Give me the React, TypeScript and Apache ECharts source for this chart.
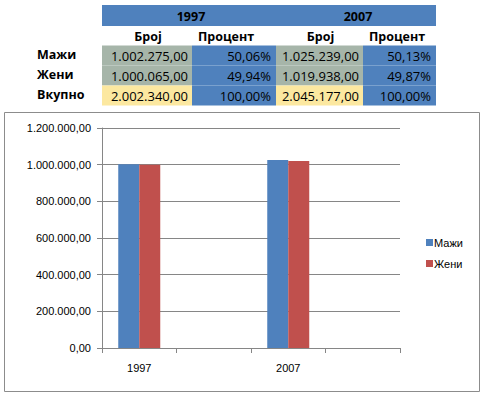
import React, { useEffect, useRef } from "react";
import * as echarts from "echarts";

const years = ["1997", "2007"];
const rowLabels = ["Мажи", "Жени", "Вкупно"];
const colHeaders = ["Број", "Процент"];
const maleCounts = [1002275, 1025239];
const femaleCounts = [1000065, 1019938];
const totalCounts = [2002340, 2045177];
const malePct = [50.06, 50.13];
const femalePct = [49.94, 49.87];
const totalPct = [100, 100];
const categories = ["1997", "", "2007", ""];
const maleSeries = [1002275, null, 1025239, null];
const femaleSeries = [1000065, null, 1019938, null];
const seriesNames = ["Мажи", "Жени"];

function fmt(n: number, decimals = 2): string {
  const [i, d] = n.toFixed(decimals).split(".");
  return i.replace(/\B(?=(\d{3})+(?!\d))/g, ".") + (d !== undefined ? "," + d : "");
}

const BLUE = "#4F81BD";
const GRAY = "#A6B5A9";
const YELLOW = "#FCE8A0";
const TFONT = "Open Sans";
const BOLD = `bold 12.5px "${TFONT}"`;
const REG = `13px "${TFONT}"`;

function txt(text: string, x: number, y: number, align: string, font: string) {
  return { type: "text", x, y, style: { text, x: 0, y: 0, align, verticalAlign: "middle", font, fill: "#000" } };
}

function buildTable(): any[] {
  const els: any[] = [];
  const colX = [102, 192, 276, 363, 436];
  els.push({ type: "rect", shape: { x: colX[0], y: 5, width: colX[4] - colX[0], height: 21 }, style: { fill: BLUE } });
  years.forEach((y, k) => {
    els.push(txt(y, (colX[2 * k] + colX[2 * k + 2]) / 2 + 2, 16, "center", BOLD));
  });
  years.forEach((_, k) => {
    els.push(txt(colHeaders[0], (colX[2 * k] + colX[2 * k + 1]) / 2 + 1, 36, "center", BOLD));
    els.push(txt(colHeaders[1], colX[2 * k + 1] + 6, 36, "left", BOLD));
  });
  const counts = [maleCounts, femaleCounts, totalCounts];
  const pcts = [malePct, femalePct, totalPct];
  const rowTop = [45.5, 65.5, 85.5];
  const rh = 20;
  rowLabels.forEach((lab, r) => {
    const cy = rowTop[r] + rh / 2;
    els.push({ type: "text", left: 37, top: cy - 8, style: { text: lab, font: BOLD, fill: "#000" } });
    years.forEach((_, k) => {
      els.push({ type: "rect", shape: { x: colX[2 * k], y: rowTop[r], width: colX[2 * k + 1] - colX[2 * k], height: rh }, style: { fill: r === 2 ? YELLOW : GRAY } });
      els.push({ type: "rect", shape: { x: colX[2 * k + 1], y: rowTop[r], width: colX[2 * k + 2] - colX[2 * k + 1], height: rh }, style: { fill: BLUE } });
      els.push(txt(fmt(counts[r][k]), colX[2 * k + 1] - 4, cy, "right", REG));
      els.push(txt(fmt(pcts[r][k]) + "%", colX[2 * k + 2] - 5, cy, "right", REG));
    });
  });
  els.push({ type: "rect", z: -10, shape: { x: 4.5, y: 112.5, width: 475, height: 279 }, style: { fill: "#fff", stroke: "#8C8C8C", lineWidth: 1 } });
  return els;
}

export default function App() {
  const ref = useRef<HTMLDivElement>(null);
  useEffect(() => {
    if (!ref.current) return;
    const chart = echarts.init(ref.current, null, { renderer: "svg" });
    const axisColor = "#868686";
    const labelFont = { color: "#000", fontFamily: "Liberation Sans", fontSize: 11 };
    chart.setOption({
      animation: false,
      backgroundColor: "#fff",
      graphic: { elements: buildTable() },
      grid: { left: 102, right: 88, top: 128, bottom: 48, containLabel: false },
      legend: {
        orient: "vertical",
        left: 421,
        top: 232,
        itemWidth: 7,
        itemHeight: 7,
        itemGap: 10,
        icon: "rect",
        textStyle: { ...labelFont, padding: [0, 0, 0, -4] },
        data: seriesNames,
      },
      xAxis: {
        type: "category",
        data: categories,
        axisLine: { lineStyle: { color: axisColor } },
        axisTick: { show: true, length: 5, lineStyle: { color: axisColor } },
        axisLabel: { ...labelFont, margin: 14, interval: 0 },
      },
      yAxis: {
        type: "value",
        min: 0,
        max: 1200000,
        interval: 200000,
        axisLine: { show: true, lineStyle: { color: axisColor } },
        axisTick: { show: true, length: 5, lineStyle: { color: axisColor } },
        splitLine: { lineStyle: { color: axisColor } },
        axisLabel: { ...labelFont, margin: 11, formatter: (v: number) => fmt(v) },
      },
      series: [
        { name: seriesNames[0], type: "bar", data: maleSeries, barWidth: 21, barGap: "0%", itemStyle: { color: "#4F81BD" } },
        { name: seriesNames[1], type: "bar", data: femaleSeries, barWidth: 21, barGap: "0%", itemStyle: { color: "#C0504D" } },
      ],
    });
    return () => chart.dispose();
  }, []);
  return <div ref={ref} style={{ position: "absolute", left: 0, top: 0, width: 488, height: 396 }} />;
}
